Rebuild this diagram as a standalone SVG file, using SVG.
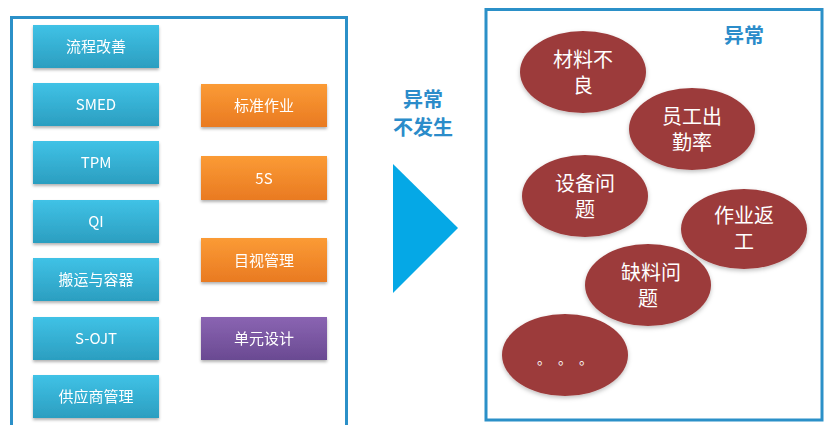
<svg xmlns="http://www.w3.org/2000/svg" width="840" height="425" viewBox="0 0 840 425">
<defs>
<linearGradient id="gb" x1="0" y1="0" x2="0" y2="1"><stop offset="0" stop-color="#40c2e6"/><stop offset="1" stop-color="#2b9ec0"/></linearGradient>
<linearGradient id="go" x1="0" y1="0" x2="0" y2="1"><stop offset="0" stop-color="#fb9b35"/><stop offset="1" stop-color="#e97a22"/></linearGradient>
<linearGradient id="gp" x1="0" y1="0" x2="0" y2="1"><stop offset="0" stop-color="#8a64b2"/><stop offset="1" stop-color="#6a4a92"/></linearGradient>
<filter id="sh" x="-10%" y="-10%" width="120%" height="130%"><feDropShadow dx="0" dy="2" stdDeviation="1.5" flood-color="#000" flood-opacity="0.3"/></filter>
<filter id="esh" x="-10%" y="-10%" width="120%" height="125%"><feDropShadow dx="0" dy="2" stdDeviation="2" flood-color="#000" flood-opacity="0.25"/></filter>
</defs>
<style>
.frame{fill:#fff;stroke:#2b90c8;stroke-width:3}
.bt{font-family:"Noto Sans CJK SC","Liberation Sans",sans-serif;font-size:15px;fill:#fff;text-anchor:middle}
.et{font-family:"Noto Sans CJK SC","Liberation Sans",sans-serif;font-size:20px;fill:#fff;text-anchor:middle}
.ht{font-family:"Noto Sans CJK SC","Liberation Sans",sans-serif;font-size:20px;font-weight:bold;fill:#2b8cca;text-anchor:middle}
.el{fill:#9c3b3b;filter:url(#esh)}
</style>
<rect width="840" height="425" fill="#fff"/>
<rect class="frame" x="11.5" y="17.5" width="335" height="420"/>
<rect class="frame" x="486" y="9.5" width="336" height="410.5"/>

<g id="b1" filter="url(#sh)"><rect x="33" y="25" width="126" height="43" fill="url(#gb)"/><text class="bt" x="96" y="52">流程改善</text></g>
<g id="b2" filter="url(#sh)"><rect x="33" y="83" width="126" height="43" fill="url(#gb)"/><text class="bt" x="96" y="110">SMED</text></g>
<g id="b3" filter="url(#sh)"><rect x="33" y="141" width="126" height="43" fill="url(#gb)"/><text class="bt" x="96" y="168">TPM</text></g>
<g id="b4" filter="url(#sh)"><rect x="33" y="200" width="126" height="43" fill="url(#gb)"/><text class="bt" x="96" y="227">QI</text></g>
<g id="b5" filter="url(#sh)"><rect x="33" y="258" width="126" height="43" fill="url(#gb)"/><text class="bt" x="96" y="285">搬运与容器</text></g>
<g id="b6" filter="url(#sh)"><rect x="33" y="317" width="126" height="43" fill="url(#gb)"/><text class="bt" x="96" y="344">S-OJT</text></g>
<g id="b7" filter="url(#sh)"><rect x="33" y="375" width="126" height="43" fill="url(#gb)"/><text class="bt" x="96" y="402">供应商管理</text></g>

<g id="o1" filter="url(#sh)"><rect x="201" y="84" width="126" height="43" fill="url(#go)"/><text class="bt" x="264" y="111">标准作业</text></g>
<g id="o2" filter="url(#sh)"><rect x="201" y="156" width="126" height="44" fill="url(#go)"/><text class="bt" x="264" y="184">5S</text></g>
<g id="o3" filter="url(#sh)"><rect x="201" y="238" width="126" height="44" fill="url(#go)"/><text class="bt" x="264" y="266">目视管理</text></g>
<g id="o4" filter="url(#sh)"><rect x="201" y="317" width="126" height="43" fill="url(#gp)"/><text class="bt" x="264" y="344">单元设计</text></g>

<g id="arrow">
<text class="ht" x="423" y="107">异常</text>
<text class="ht" x="423" y="135">不发生</text>
<polygon points="393,164 458,228 393,293" fill="#05a8e6"/>
</g>

<text class="ht" x="744" y="43">异常</text>

<g id="e1"><ellipse class="el" cx="583" cy="72" rx="63" ry="41"/><text class="et" x="583" y="67">材料不</text><text class="et" x="583" y="93">良</text></g>
<g id="e2"><ellipse class="el" cx="692" cy="129" rx="63" ry="41"/><text class="et" x="692" y="124">员工出</text><text class="et" x="692" y="150">勤率</text></g>
<g id="e3"><ellipse class="el" cx="585" cy="196" rx="63" ry="41"/><text class="et" x="585" y="191">设备问</text><text class="et" x="585" y="217">题</text></g>
<g id="e4"><ellipse class="el" cx="744" cy="229" rx="63" ry="40"/><text class="et" x="744" y="223">作业返</text><text class="et" x="744" y="249">工</text></g>
<g id="e5"><ellipse class="el" cx="648" cy="285" rx="63" ry="41"/><text class="et" x="651" y="280">缺料问</text><text class="et" x="648" y="306">题</text></g>
<g id="e6"><ellipse class="el" cx="565" cy="355" rx="63" ry="41"/><text x="537" y="364" style="font-family:'Noto Sans CJK SC',sans-serif;font-size:14px;fill:#fff;letter-spacing:14px">。。。</text></g>
</svg>
